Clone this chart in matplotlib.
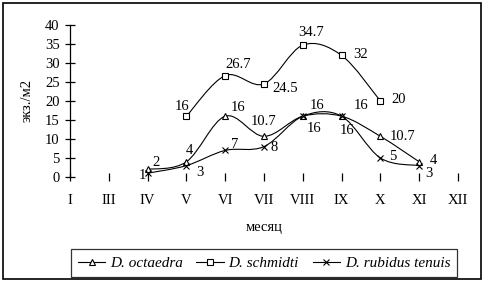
import matplotlib
matplotlib.use("Agg")
import matplotlib.pyplot as plt
from matplotlib.path import Path
from matplotlib.patches import PathPatch, Rectangle
from matplotlib.lines import Line2D
import numpy as np

plt.rcParams['font.family'] = ['Liberation Serif', 'DejaVu Serif']

months = ["I", "III", "IV", "V", "VI", "VII", "VIII", "IX", "X", "XI", "XII"]

# series: month index positions and values
oct_idx = [2, 3, 4, 5, 6, 7, 8, 9]
oct_val = [2, 4, 16, 10.7, 16, 16, 10.7, 4]
oct_lbl = ["2", "4", "16", "10.7", "16", "16", "10.7", "4"]

sch_idx = [3, 4, 5, 6, 7, 8]
sch_val = [16, 26.7, 24.5, 34.7, 32, 20]
sch_lbl = ["16", "26.7", "24.5", "34.7", "32", "20"]

rub_idx = [2, 3, 4, 5, 6, 7, 8, 9]
rub_val = [1, 3, 7, 8, 16, 16, 5, 3]
rub_lbl = ["1", "3", "7", "8", "16", "16", "5", "3"]

# label offsets in points (style only)
oct_off = [(6, 5), (2, 8), (9, 6), (0, 11), (10, 8), (14, 8), (16, 0), (10, 1)]
sch_off = [(-3, 7), (9, 8), (15, -3), (6, 9), (14, 1), (13, 1)]
rub_off = [(-4, -2), (10, -5), (7, 4), (7, -1), (8, -9), (4, -10), (9, 1), (7, -6)]

fig = plt.figure(figsize=(4.84, 2.83), dpi=100)
W, H = 484, 283
ax = fig.add_axes([70 / W, 1 - 177 / H, (458 - 70) / W, (177 - 25) / H])
ax.set_xlim(0, 10)
ax.set_ylim(0, 40)

for s in ['top', 'right', 'bottom']:
    ax.spines[s].set_visible(False)
ax.spines['left'].set_linewidth(0.9)

ax.set_xticks(range(len(months)))
ax.set_xticklabels(months, fontsize=10.5)
ax.set_yticks(range(0, 41, 5))
ax.set_yticklabels([str(v) for v in range(0, 41, 5)], fontsize=10.5)
ax.tick_params(axis='x', direction='inout', length=6, width=0.9, pad=9)
ax.tick_params(axis='y', direction='inout', length=7, width=0.9, pad=4)

ax.set_ylabel("экз./м2", fontsize=10.5, labelpad=8)
ax.set_xlabel("месяц", fontsize=10.5, labelpad=10)


def smooth_path(xs, ys):
    pts = np.column_stack([xs, ys]).astype(float)
    n = len(pts)
    verts = [pts[0]]
    codes = [Path.MOVETO]
    for i in range(n - 1):
        p0 = pts[i - 1] if i > 0 else pts[i]
        p1 = pts[i]
        p2 = pts[i + 1]
        p3 = pts[i + 2] if i + 2 < n else pts[i + 1]
        c1 = p1 + (p2 - p0) / 6.0
        c2 = p2 - (p3 - p1) / 6.0
        verts += [c1, c2, p2]
        codes += [Path.CURVE4] * 3
    return Path(verts, codes)


series = [
    (oct_idx, oct_val, oct_lbl, oct_off, '^', 'D. octaedra'),
    (sch_idx, sch_val, sch_lbl, sch_off, 's', 'D. schmidti'),
    (rub_idx, rub_val, rub_lbl, rub_off, 'x', 'D. rubidus tenuis'),
]

handles = []
for xs, ys, lbls, offs, mk, name in series:
    ax.add_patch(PathPatch(smooth_path(xs, ys), facecolor='none',
                           edgecolor='black', lw=0.8, transform=ax.transData))
    ax.plot(xs, ys, linestyle='none', marker=mk, ms=4.5, mfc='white',
            mec='black', mew=0.8, clip_on=False)
    for x, y, t, o in zip(xs, ys, lbls, offs):
        ax.annotate(t, (x, y), xytext=o, textcoords='offset points',
                    ha='center', va='center', fontsize=10.5)
    handles.append(Line2D([], [], color='black', lw=0.8, marker=mk, ms=4,
                          mfc='white', mec='black', mew=0.8, label=name))

leg = fig.legend(handles=handles, loc='center', bbox_to_anchor=(264 / W, 1 - 263 / H),
                 ncol=3, frameon=True, fancybox=False, edgecolor='black',
                 handlelength=1.8, handletextpad=0.3, columnspacing=0.9,
                 borderpad=0.45, prop={'style': 'italic', 'size': 11})
leg.get_frame().set_linewidth(0.9)

fig.patches.append(Rectangle((3 / W, 4 / H), 478 / W, 276 / H, transform=fig.transFigure,
                             fill=False, edgecolor='black', lw=1.2))

fig.savefig("out.png", dpi=100)
